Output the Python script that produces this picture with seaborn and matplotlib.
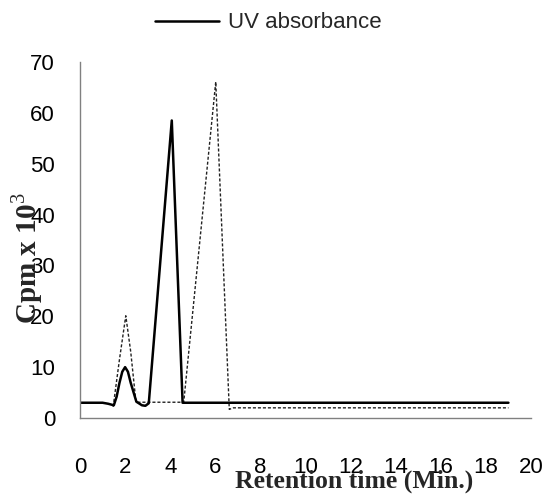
import matplotlib
matplotlib.use("Agg")
import matplotlib.pyplot as plt
import seaborn as sns
import pandas as pd

# UV absorbance (solid line)
uv_time = [0.0, 0.5, 1.0, 1.25, 1.5, 1.625, 1.75, 1.875, 2.0, 2.125, 2.25, 2.5, 2.75, 2.9, 3.05, 4.07, 4.55, 5.0, 10.0, 19.0]
uv_value = [3.0, 3.0, 3.0, 2.8, 2.5, 4.2, 6.9, 9.1, 10.0, 9.1, 6.9, 3.2, 2.5, 2.4, 2.9, 58.5, 3.0, 3.0, 3.0, 3.0]

# Cpm x 10^3 (dotted line)
cpm_time = [1.47, 1.75, 2.03, 2.25, 2.48, 2.6, 4.6, 6.02, 6.62, 6.8, 10.0, 19.0]
cpm_value = [2.2, 11.5, 20.1, 13.0, 3.2, 3.1, 3.1, 66.1, 1.7, 2.0, 2.0, 2.0]

x_ticks = [0, 2, 4, 6, 8, 10, 12, 14, 16, 18, 20]
y_ticks = [0, 10, 20, 30, 40, 50, 60, 70]

sns.set_style("white")
plt.rcParams["font.family"] = ["Liberation Sans", "DejaVu Sans"]
plt.rcParams["mathtext.fontset"] = "custom"
plt.rcParams["mathtext.rm"] = "Liberation Serif"
plt.rcParams["mathtext.bf"] = "Liberation Serif:bold"

uv_df = pd.DataFrame({"time": uv_time, "value": uv_value})
cpm_df = pd.DataFrame({"time": cpm_time, "value": cpm_value})

fig = plt.figure(figsize=(5.47, 4.94), dpi=100)
ax = fig.add_axes([80 / 547, 76 / 494, 451 / 547, 356 / 494])

sns.lineplot(data=cpm_df, x="time", y="value", ax=ax, color="#222222",
             linewidth=1.0, linestyle=(0, (2.2, 1.4)), sort=False, label="_nolegend_")
sns.lineplot(data=uv_df, x="time", y="value", ax=ax, color="black",
             linewidth=1.8, sort=False, label="UV absorbance")

ax.set_xlim(0, 20)
ax.set_ylim(0, 70)
ax.set_xticks(x_ticks)
ax.set_yticks(y_ticks)
ax.set_xticklabels([str(t) for t in x_ticks])
ax.set_yticklabels([str(t) for t in y_ticks])

for side in ["top", "right"]:
    ax.spines[side].set_visible(False)
for side in ["left", "bottom"]:
    ax.spines[side].set_color("#808080")
    ax.spines[side].set_linewidth(1.0)

ax.tick_params(axis="x", direction="out", length=6, width=1, color="#808080",
               pad=22, labelsize=16, labelcolor="black")
ax.tick_params(axis="y", direction="out", length=6, width=1, color="#808080",
               pad=12, labelsize=16, labelcolor="black")
ax.set_xlabel("")
ax.set_ylabel("")

fig.text(354 / 547, 1 - 488 / 494, "Retention time (Min.)", ha="center", va="baseline",
         fontsize=18.5, fontweight="bold", family="Liberation Serif")
fig.text(27 / 547, 1 - 258 / 494, r"Cpm x 10$^{3}$", ha="center", va="center",
         rotation=90, fontsize=21, fontweight="bold", family="Liberation Serif")

leg = ax.get_legend()
if leg is not None:
    leg.remove()
handles, labels = ax.get_legend_handles_labels()
fig.legend(handles, labels, loc="center", bbox_to_anchor=(268 / 547, 1 - 23 / 494),
           frameon=False, fontsize=16, handlelength=2.9, handletextpad=0.4,
           borderpad=0, borderaxespad=0)

fig.savefig("out.png", dpi=100)
